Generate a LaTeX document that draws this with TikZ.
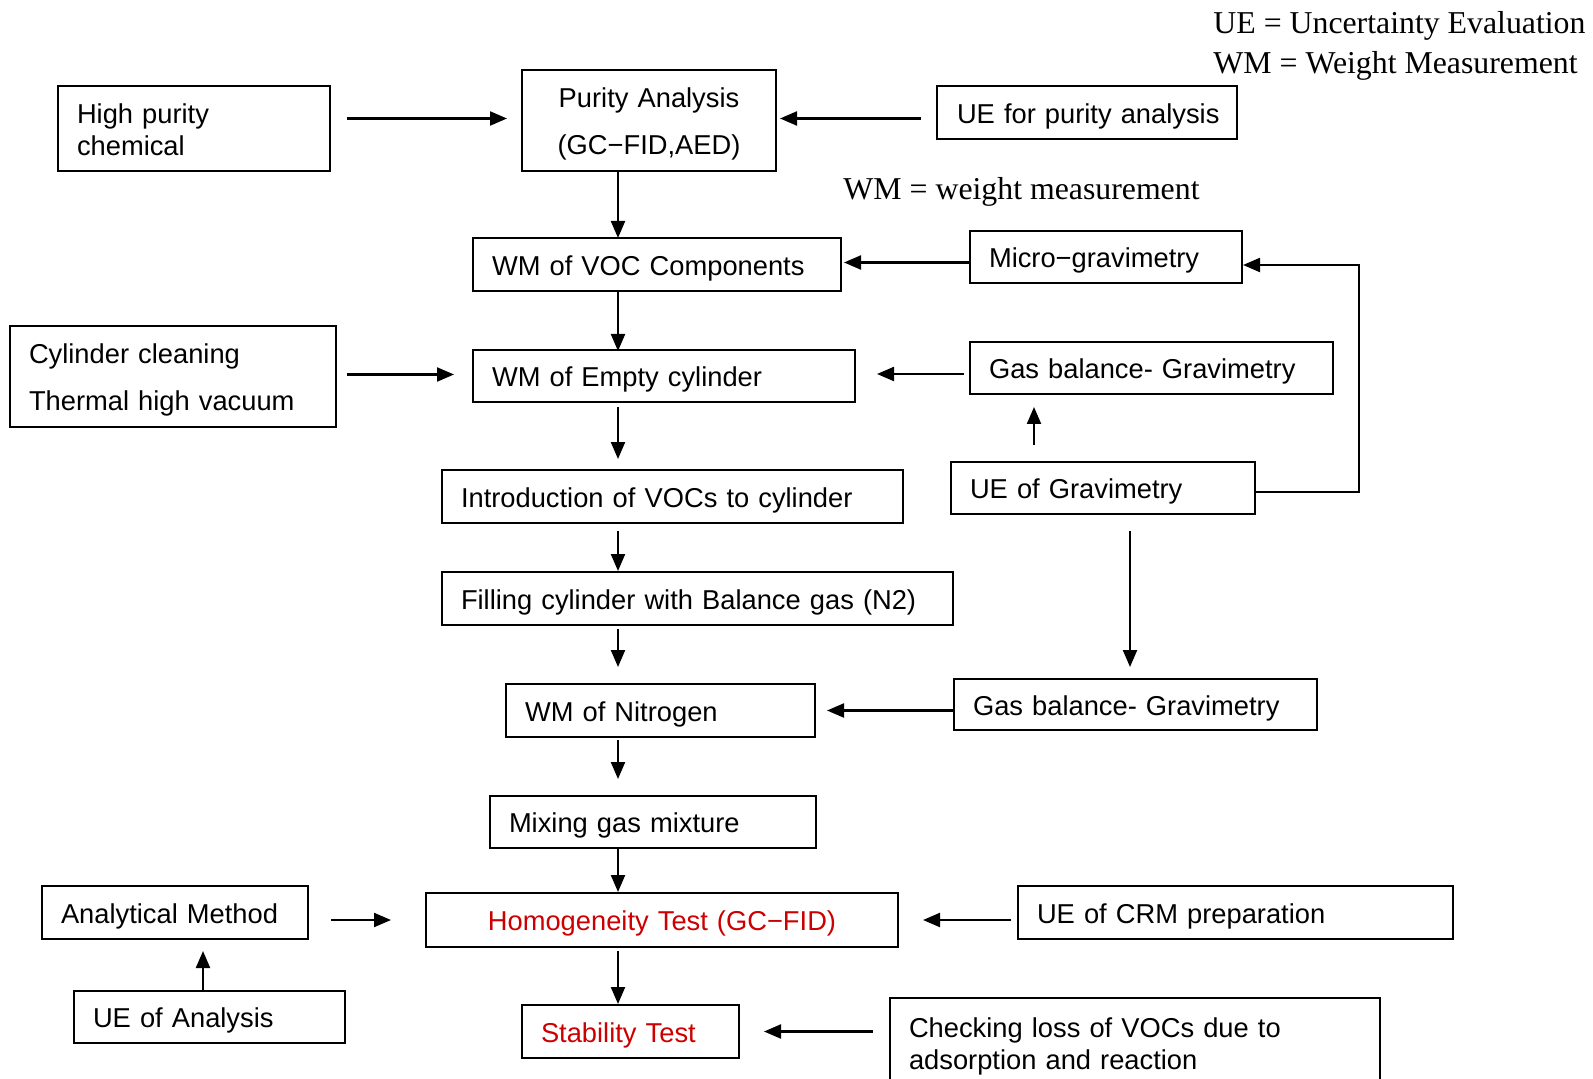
\documentclass[tikz,border=0pt]{standalone}
\usepackage{fontspec}
\newfontfamily\boxfam{Liberation Sans}
\newfontfamily\legfam{Liberation Serif}
\usetikzlibrary{arrows.meta}
\definecolor{testred}{RGB}{204,0,0}

\begin{document}
\begin{tikzpicture}[
    x=0.5pt, y=-0.5pt,
    box/.style={draw, line width=1pt, inner xsep=9.5pt, inner ysep=0pt, align=left,
      text height=10.8pt, text depth=0pt,
      font=\boxfam\fontsize{13.65}{16}\selectfont},
    twoline/.style={text depth=16pt},
    wideline/.style={text depth=23.5pt},
    legend/.style={anchor=west, inner sep=0pt, font=\legfam\fontsize{15.9}{18}\selectfont},
    arr/.style={-{Triangle[length=8.5pt,width=7pt]}, line width=1.1pt},
  ]
  \useasboundingbox (0,0) rectangle (1593,1079);
  \clip (0,0) rectangle (1593,1079);
  % Abbreviations
  \node[legend] (leg1) at (1213,26) {UE = Uncertainty Evaluation};
  \node[legend] (leg2) at (1213,66) {WM = Weight Measurement};
  \node[legend] (leg3) at (843,192) {WM = weight measurement};
  % Main chain
  \node[box, wideline, align=center, text width=108pt, minimum height=50.5pt] (pa) at (649,120.5) {Purity Analysis\\[7.5pt](GC−FID,AED)};
  \node[box, text width=165pt, minimum height=26.5pt] (voc) at (657,264.5) {WM of VOC Components};
  \node[box, text width=172pt, minimum height=26pt] (empty) at (664,376) {WM of Empty cylinder};
  \node[box, text width=211.5pt, minimum height=26.5pt] (intro) at (672.5,496.5) {Introduction of VOCs to cylinder};
  \node[box, text width=236.5pt, minimum height=26.5pt] (fill) at (697.5,598.5) {Filling cylinder with Balance gas (N2)};
  \node[box, text width=135.5pt, minimum height=26.5pt] (wmn) at (660.5,710.5) {WM of Nitrogen};
  \node[box, text width=144pt, minimum height=26pt] (mix) at (653,822) {Mixing gas mixture};
  \node[box, align=center, text width=217pt, minimum height=27pt, text=testred] (homog) at (662,920) {Homogeneity Test (GC−FID)};
  \node[box, text width=89.5pt, minimum height=26.5pt, text=testred] (stab) at (630.5,1031.5) {Stability Test};
  % Inputs on the left
  \node[box, twoline, text width=117pt, minimum height=42.5pt] (hp) at (194,128.5) {High purity\\chemical};
  \node[box, wideline, text width=144pt, minimum height=50.5pt] (cyl) at (173,376.5) {Cylinder cleaning\\[7.5pt]Thermal high vacuum};
  \node[box, text width=114pt, minimum height=26.5pt] (am) at (175,912.5) {Analytical Method};
  \node[box, text width=116.5pt, minimum height=26pt] (uea) at (209.5,1017) {UE of Analysis};
  % Inputs on the right
  \node[box, inner xsep=7pt, text width=136pt, minimum height=26.5pt] (uep) at (1087,112.5) {\hspace*{3pt}UE for purity analysis};
  \node[box, text width=117pt, minimum height=26pt] (micro) at (1106,257) {Micro−gravimetry};
  \node[box, text width=162.5pt, minimum height=26pt] (gb1) at (1151.5,368) {Gas balance- Gravimetry};
  \node[box, text width=133pt, minimum height=26pt] (ueg) at (1103,488) {UE of Gravimetry};
  \node[box, text width=162.5pt, minimum height=25.5pt] (gb2) at (1135.5,704.5) {Gas balance- Gravimetry};
  \node[box, text width=198.5pt, minimum height=26.5pt] (crm) at (1235.5,912.5) {UE of CRM preparation};
  \node[box, twoline, text width=226pt, minimum height=45pt] (chk) at (1135,1043) {Checking loss of VOCs due to\\adsorption and reaction};
  % Guide lines for the arrows
  \coordinate (spine) at (618,0);
  \coordinate (gx1) at (1034,0);
  \coordinate (gx2) at (1130,0);
  \coordinate (gx3) at (203,0);
  \coordinate (loop) at (1359,0);
  % Down the chain
  \draw[arr] (pa.south -| spine) -- ([yshift=-0.5pt]voc.north -| spine);
  \draw[arr] (voc.south -| spine) -- ([yshift=-1pt]empty.north -| spine);
  \draw[arr, shorten <=2pt, shorten >=5pt] (empty.south -| spine) -- (intro.north -| spine);
  \draw[arr, shorten <=3.5pt] (intro.south -| spine) -- (fill.north -| spine);
  \draw[arr, shorten <=1.5pt, shorten >=8pt] (fill.south -| spine) -- (wmn.north -| spine);
  \draw[arr, shorten <=1pt, shorten >=8pt] (wmn.south -| spine) -- (mix.north -| spine);
  \draw[arr] (mix.south -| spine) -- (homog.north -| spine);
  \draw[arr, shorten <=1.5pt] (homog.south -| spine) -- (stab.north -| spine);
  % From the left
  \draw[arr, shorten <=8pt, shorten >=7pt] ([yshift=1pt]hp.east |- pa.west) -- ([yshift=1pt]pa.west);
  \draw[arr, shorten <=5pt, shorten >=9pt] ([yshift=1pt]cyl.east) -- ([yshift=1pt]cyl.east -| empty.west);
  \draw[arr, shorten <=11pt, shorten >=17pt] (am.east |- homog.west) -- (homog.west);
  \draw[arr, shorten >=5.5pt] (uea.north -| gx3) -- (am.south -| gx3);
  % From the right
  \draw[arr, shorten <=7.5pt, shorten >=1.5pt] ([yshift=1pt]uep.west |- pa.east) -- ([yshift=1pt]pa.east);
  \draw[arr, shorten >=1pt] ([yshift=1pt]micro.west |- voc.east) -- ([yshift=1pt]voc.east);
  \draw[arr, shorten <=2.5pt, shorten >=10.5pt] ([yshift=1pt]gb1.west |- empty.east) -- ([yshift=1pt]empty.east);
  \draw[arr, shorten <=8pt, shorten >=6pt] (ueg.north -| gx1) -- (gb1.south -| gx1);
  \draw[arr] ([yshift=-2pt]ueg.east) -| ([yshift=-4pt]loop |- micro.east) -- ([yshift=-4pt]micro.east);
  \draw[arr, shorten <=8pt, shorten >=5.5pt] (ueg.south -| gx2) -- (gb2.north -| gx2);
  \draw[arr, shorten >=5.5pt] (gb2.west |- wmn.east) -- (wmn.east);
  \draw[arr, shorten <=3pt, shorten >=12pt] (crm.west |- homog.east) -- (homog.east);
  \draw[arr, shorten <=8pt, shorten >=12pt] (chk.west |- stab.east) -- (stab.east);
\end{tikzpicture}
\end{document}
